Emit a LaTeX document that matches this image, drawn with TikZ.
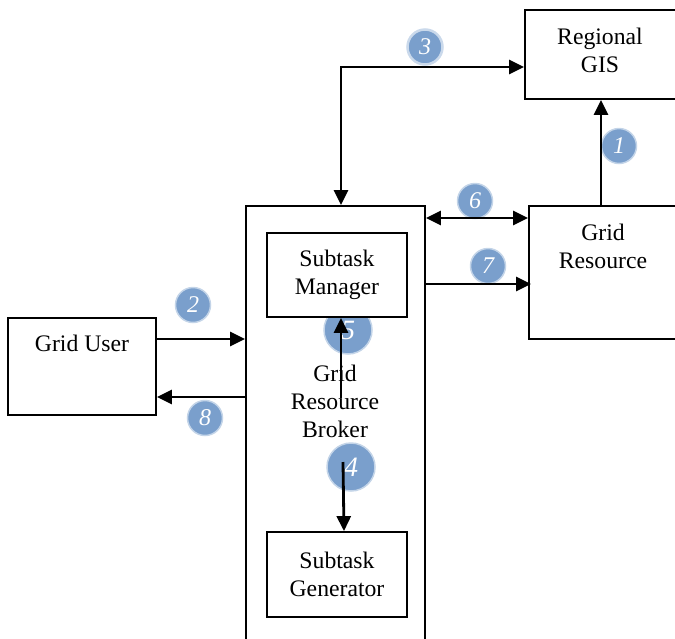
\documentclass[tikz,border=0pt]{standalone}
\usepackage{fontspec}
\setmainfont{Liberation Serif}
\usetikzlibrary{arrows.meta,positioning}
\definecolor{StepBlue}{HTML}{7A9FCC}
\tikzset{
  flowbox/.style={
    draw=black,
    line width=1.8pt,
    inner sep=0pt
  },
  flowtext/.style={
    align=center,
    font=\fontsize{23.7}{28}\selectfont,
    inner sep=0pt
  },
  stepdot/.style={
    circle,
    fill=StepBlue,
    draw=StepBlue!45,
    line width=1.5pt,
    inner sep=0pt,
    minimum size=35pt,
    text=white,
    font=\fontsize{24}{24}\selectfont\itshape
  },
  bigdot/.style={
    stepdot,
    minimum size=48pt,
    font=\fontsize{28}{28}\selectfont\itshape
  },
  flowline/.style={
    draw=black,
    line width=2.8pt,
    -{Triangle[length=15pt,width=14pt]}
  },
  flowboth/.style={
    flowline,
    {Triangle[length=15pt,width=14pt]}-{Triangle[length=15pt,width=14pt]}
  }
}

\begin{document}
\begin{tikzpicture}[x=1pt,y=-1pt]
  \clip (0,0) rectangle (675,638);
  % numbered steps
  \node[stepdot] (s1) at (619,146) {1};
  \node[stepdot] (s2) at (193,305) {2};
  \node[stepdot, draw=StepBlue!40, line width=2.5pt] (s3) at (425,47) {3};
  \node[bigdot] (s4) at (351,467) {4};
  \node[bigdot] (s5) at (348,330) {5};
  \node[stepdot] (s6) at (475,201) {6};
  \node[stepdot] (s7) at (488,266) {7};
  \node[stepdot] (s8) at (205,418) {8};
  % boxes
  \node[flowbox, minimum width=205pt, minimum height=89pt] (gis) at (627.5,54.5) {};
  \node[flowbox, minimum width=201pt, minimum height=133pt] (res) at (629.5,272.5) {};
  \node[flowbox, minimum width=179pt, minimum height=474pt] (broker) at (335.5,443) {};
  \node[flowbox, flowtext, fill=white, minimum width=140pt, minimum height=84pt] (mgr) at (337,275) {Subtask\\Manager};
  \node[flowbox, flowtext, fill=white, minimum width=140pt, minimum height=85pt] (gen) at (337,574.5) {Subtask\\Generator};
  \node[flowbox, minimum width=148pt, minimum height=97pt] (user) at (82,366.5) {};
  \node[flowtext] (gistext) at (600,50) {Regional\\GIS};
  \node[flowtext] (restext) at (603,246) {Grid\\Resource};
  \node[flowtext] (brokertext) at (335,401) {Grid\\Resource\\Broker};
  \node[flowtext] (usertext) at (82,343) {Grid User};
  % connectors
  \coordinate (c1) at (601,0);
  \coordinate (c2) at (0,339);
  \coordinate (c4) at (343,462);
  \coordinate (c5) at (341,398);
  \coordinate (c6) at (0,218);
  \coordinate (c7) at (0,284);
  \coordinate (c8) at (0,397);
  \draw[flowline] (res.north -| c1) -- (gis.south -| c1);
  \draw[flowline] (user.east |- c2) -- (broker.west |- c2);
  \draw[flowboth] ([xshift=5.5pt]broker.north) |- ([yshift=-12.5pt]gis.west);
  \draw[flowline] (c4) -- ([xshift=7pt]gen.north);
  \draw[flowline] (c5) -- (mgr.south -| c5);
  \draw[flowboth] (broker.east |- c6) -- (res.west |- c6);
  \draw[flowline] (broker.east |- c7) -- ([xshift=3pt]res.west |- c7);
  \draw[flowline] (broker.west |- c8) -- (user.east |- c8);
\end{tikzpicture}
\end{document}
